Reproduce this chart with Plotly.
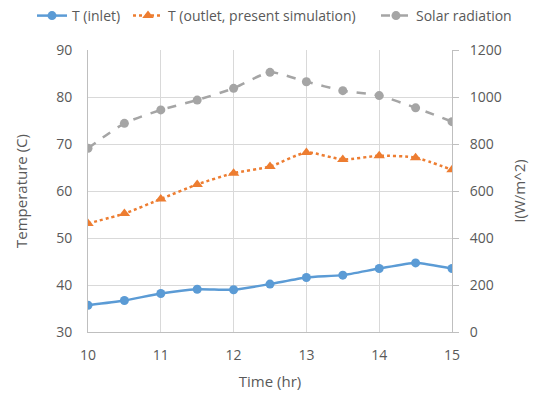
import plotly.graph_objects as go

# Time of day (hr)
time_hr = [10, 10.5, 11, 11.5, 12, 12.5, 13, 13.5, 14, 14.5, 15]

# Temperatures (C)
t_inlet = [35.7, 36.7, 38.2, 39.1, 39.0, 40.2, 41.6, 42.1, 43.5, 44.7, 43.5]
t_outlet = [53.1, 55.2, 58.3, 61.4, 63.8, 65.2, 68.2, 66.7, 67.5, 67.1, 64.5]

# Solar radiation (W/m^2)
solar = [782, 888, 945, 987, 1037, 1105, 1065, 1027, 1006, 954, 895]

FONT = "Open Sans, Liberation Sans, sans-serif"
TXT = "#595959"
GRID = "#d9d9d9"
AXIS = "#bfbfbf"
W, H = 549, 396

fig = go.Figure()

fig.add_trace(go.Scatter(
    x=time_hr, y=t_inlet, name="T (inlet)", mode="lines+markers", legend="legend",
    line=dict(color="#5b9bd5", width=2.5, shape="spline", smoothing=0.6),
    marker=dict(symbol="circle", size=9, color="#5b9bd5"),
))
fig.add_trace(go.Scatter(
    x=time_hr, y=t_outlet, name="T (outlet, present simulation)", mode="lines+markers",
    legend="legend2",
    line=dict(color="#ed7d31", width=2.5, dash="dot", shape="spline", smoothing=0.6),
    marker=dict(symbol="triangle-up", size=10, color="#ed7d31"),
))
fig.add_trace(go.Scatter(
    x=time_hr, y=solar, name="Solar radiation", mode="lines+markers", yaxis="y2",
    legend="legend3",
    line=dict(color="#a5a5a5", width=2.5, dash="dash", shape="spline", smoothing=0.6),
    marker=dict(symbol="circle", size=9, color="#a5a5a5"),
))


def legend_at(left_px):
    # one-row legend anchored at a pixel offset along the top of the figure
    return dict(
        orientation="h", xref="container", x=left_px / W, xanchor="left",
        yref="container", y=1.0, yanchor="top",
        font=dict(size=14, color=TXT), itemwidth=30, bgcolor="rgba(0,0,0,0)",
    )


fig.update_layout(
    width=W, height=H,
    margin=dict(l=88, r=97, t=50, b=64, autoexpand=False),
    paper_bgcolor="white", plot_bgcolor="white",
    font=dict(family=FONT, size=13, color=TXT),
    showlegend=True,
    legend=legend_at(32),
    legend2=legend_at(128),
    legend3=legend_at(376),
    xaxis=dict(
        range=[10, 15], dtick=1, tick0=10, automargin=False,
        showgrid=True, gridcolor=GRID, gridwidth=1,
        showline=True, linecolor=AXIS, linewidth=1,
        ticks="", zeroline=False, ticklabelstandoff=10,
        tickfont=dict(size=14, color=TXT),
        title=dict(text="Time (hr)", font=dict(size=15, color=TXT), standoff=13),
    ),
    yaxis=dict(
        range=[30, 90], dtick=10, automargin=False,
        showgrid=True, gridcolor=GRID, gridwidth=1,
        showline=True, linecolor=AXIS, linewidth=1,
        ticks="", zeroline=False, ticklabelstandoff=12,
        tickfont=dict(size=14, color=TXT),
        title=dict(text="Temperature (C)", font=dict(size=15, color=TXT), standoff=24),
    ),
    yaxis2=dict(
        range=[0, 1200], dtick=200, overlaying="y", side="right", automargin=False,
        showgrid=False, showline=True, linecolor=AXIS, linewidth=1,
        ticks="outside", ticklen=6, tickcolor=AXIS, zeroline=False,
        ticklabelstandoff=8,
        tickfont=dict(size=14, color=TXT),
        title=dict(text="I(W/m^2)", font=dict(size=15, color=TXT), standoff=13),
    ),
)

fig.write_html("out.html")
